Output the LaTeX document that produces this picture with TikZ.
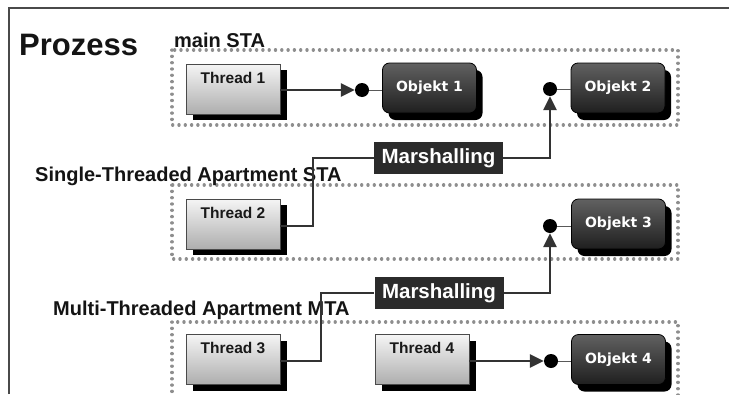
\documentclass[tikz,border=0pt]{standalone}
\usepackage{fontspec}
\setmainfont{Liberation Sans}
\newfontfamily\objfont{DejaVu Sans}
\usetikzlibrary{arrows.meta,shadows}
\definecolor{linegray}{HTML}{333333}
\definecolor{dotgray}{HTML}{8E8E8E}
\definecolor{framegray}{HTML}{4A4A4A}
\definecolor{marsfill}{HTML}{2B2B2B}
\tikzset{
  thread/.style={draw=framegray, line width=0.8pt, minimum width=94pt, inner sep=0pt,
    top color=white!96!black, bottom color=black!32,
    text height=19pt, text depth=31pt, text=black!90,
    font=\bfseries\fontsize{15.5}{16}\selectfont,
    drop shadow={shadow xshift=7pt, shadow yshift=-6pt, fill=black, opacity=1}},
  obj/.style={draw=black, line width=0.8pt, rounded corners=7pt,
    minimum width=94pt, minimum height=50pt, inner sep=0pt,
    top color=black!62, bottom color=black!88, text=white,
    font=\objfont\bfseries\fontsize{14}{16}\selectfont,
    drop shadow={shadow xshift=6pt, shadow yshift=-7pt, fill=black, opacity=1}},
  mars/.style={fill=marsfill, text=white, minimum width=129pt, minimum height=32pt,
    inner sep=0pt, font=\bfseries\fontsize{20.5}{22}\selectfont},
  endpoint/.style={circle, fill=black, minimum size=14pt, inner sep=0pt},
  conn/.style={draw=linegray, line width=2.8pt},
  tiparrow/.style={-{Triangle[length=14pt,width=13pt]}},
  stub/.style={draw=black!65, line width=1pt},
  apartment/.style={draw=dotgray, line width=3.2pt, line cap=round,
    dash pattern=on 0.2pt off 6.1pt},
  heading/.style={anchor=base west, inner sep=0pt, text=black!92,
    font=\bfseries\fontsize{20}{22}\selectfont}
}
\begin{document}
\begin{tikzpicture}[x=1pt,y=-1pt]
\useasboundingbox (0,0) rectangle (729,394);

% outer frame (open to the right and bottom)
\draw[framegray, line width=1.5pt] (9,394) -- (9,8) -- (729,8);

% apartment boundaries
\draw[apartment] (172,50) rectangle (678,125);
\draw[apartment] (172,185) rectangle (678,259);
\draw[apartment] (172,322) rectangle (678,430);

% headings
\node[anchor=base west, inner sep=0pt, text=black!92,
  font=\bfseries\fontsize{31}{33}\selectfont] (proc) at (19,55) {Prozess};
\node[heading] (hmain) at (174,47) {main STA};
\node[heading] (hsta) at (35,181) {Single-Threaded Apartment STA};
\node[heading] (hmta) at (53,315) {Multi-Threaded Apartment MTA};

% threads and objects
\node[thread] (t1) at (233,89) {Thread 1};
\node[obj] (o1) at (429.5,88) {Objekt 1};
\node[obj] (o2) at (618,88) {Objekt 2};
\node[thread] (t2) at (233,224) {Thread 2};
\node[obj] (o3) at (618.5,224) {Objekt 3};
\node[thread] (t3) at (233,359.5) {Thread 3};
\node[thread] (t4) at (422,359.5) {Thread 4};
\node[obj] (o4) at (618.5,359.5) {Objekt 4};

% interface end points
\node[endpoint] (d1) at (362,90) {};
\node[endpoint] (d2) at (550,89) {};
\node[endpoint] (d3) at (550,226) {};
\node[endpoint] (d4) at (551,361) {};

% marshalling proxies
\node[mars] (m1) at (438.5,158) {Marshalling};
\node[mars] (m2) at (439,293) {Marshalling};

% stubs from end points to objects
\draw[stub] (d1.east) -- (o1.west |- d1);
\draw[stub] (d2.east) -- (o2.west |- d2);
\draw[stub] (d3.east) -- (o3.west |- d3);
\draw[stub] (d4.east) -- (o4.west |- d4);

% direct calls
\draw[conn, tiparrow] (t1.east |- d1) -- (d1.west);
\draw[conn, tiparrow] (t4.east |- d4) -- (d4.west);

% calls through marshalling
\coordinate (k1) at (313,158);
\coordinate (k2) at (321,293);
\draw[conn] (t2.east |- d3) -| (k1) -- (m1.west);
\draw[conn, tiparrow] (m1.east) -| (d2.south);
\draw[conn] (t3.east |- d4) -| (k2) -- (m2.west);
\draw[conn, tiparrow] (m2.east) -| (d3.south);
\end{tikzpicture}
\end{document}
